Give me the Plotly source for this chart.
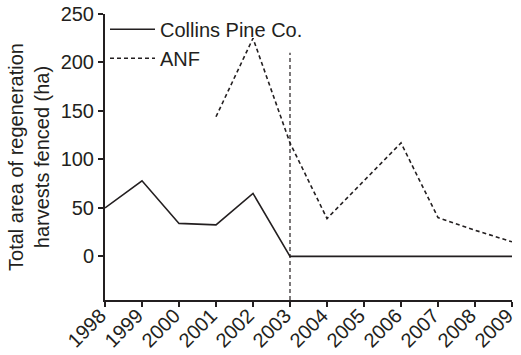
import plotly.graph_objects as go

years = [1998, 1999, 2000, 2001, 2002, 2003, 2004, 2005, 2006, 2007, 2008, 2009]
collins = [50, 78, 34, 32.5, 65, 0, 0, 0, 0, 0, 0, 0]
anf_years = [2001, 2002, 2003, 2004, 2005, 2006, 2007, 2008, 2009]
anf = [144, 225, 117, 39, 78, 117, 40, 27, 15]
divider_year = 2003
divider_range = [-45, 210]
tick_years = [str(y) for y in years]

ink = "#231f20"
font = dict(family="Liberation Sans, Arial, sans-serif", size=20, color=ink)

fig = go.Figure()
fig.add_trace(go.Scatter(x=years, y=collins, mode="lines", name="Collins Pine Co.",
                         line=dict(color=ink, width=1.6)))
fig.add_trace(go.Scatter(x=anf_years, y=anf, mode="lines", name="ANF",
                         line=dict(color=ink, width=1.6, dash="4px,3px")))
fig.add_trace(go.Scatter(x=[divider_year, divider_year], y=divider_range, mode="lines",
                         showlegend=False, line=dict(color=ink, width=1.2, dash="4px,3px")))

for yr, lab in zip(years, tick_years):
    fig.add_annotation(x=yr, xref="x", y=0, yref="paper", text=lab, showarrow=False,
                       textangle=-45, xanchor="right", yanchor="top",
                       xshift=8, yshift=-1, font=dict(size=20, color=ink))

fig.update_layout(
    width=521, height=355,
    margin=dict(l=105, r=9, t=14, b=55),
    plot_bgcolor="white", paper_bgcolor="white",
    font=font,
    showlegend=True,
    legend=dict(x=0.0, y=1.015, xanchor="left", yanchor="top", bgcolor="rgba(0,0,0,0)",
                font=dict(size=20, color=ink), itemwidth=45, tracegroupgap=0,
                borderwidth=0),
)
fig.update_xaxes(range=[1998, 2009], tickvals=years, ticktext=[""] * len(years),
                 showgrid=False, zeroline=False, showline=True, linecolor=ink, linewidth=2,
                 ticks="outside", ticklen=5, tickcolor=ink, tickwidth=1.5, automargin=False)
fig.update_yaxes(range=[-45, 250], tickvals=[0, 50, 100, 150, 200, 250],
                 showgrid=False, zeroline=False, showline=True, linecolor=ink, linewidth=2,
                 ticks="outside", ticklen=5, tickcolor=ink, tickwidth=1.5, automargin=False,
                 tickfont=dict(size=20, color=ink),
                 title=dict(text="Total area of regeneration<br>harvests fenced (ha)",
                            font=dict(size=20, color=ink), standoff=6))

fig.write_html("out.html", config={"displayModeBar": False},
               post_script="document.body.style.margin='0';")
